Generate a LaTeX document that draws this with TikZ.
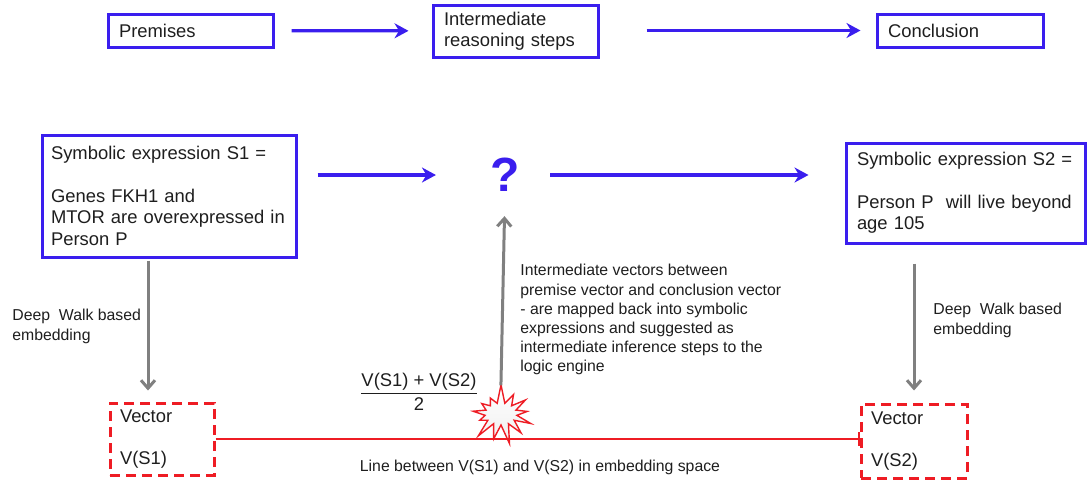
\documentclass[tikz,border=0pt]{standalone}
\usepackage{fontspec}
\setmainfont{Liberation Sans}
\usetikzlibrary{arrows.meta,shapes.symbols}
\definecolor{boxblue}{RGB}{58,30,238}
\definecolor{vecred}{RGB}{238,28,36}
\definecolor{ink}{RGB}{30,30,30}
\newcommand{\boxfont}{\fontsize{9.2}{10.7}\selectfont}
\newcommand{\notefont}{\fontsize{7.9}{9.6}\selectfont}
\tikzset{
  bluebox/.style={draw=boxblue, line width=1.5pt, inner xsep=5.5pt, inner ysep=0pt,
    align=left, font=\boxfont, text=ink},
  redbox/.style={draw=vecred, line width=1.5pt, dash pattern=on 5pt off 3pt,
    inner xsep=5pt, inner ysep=0pt, align=left, font=\boxfont, text=ink},
  bluearr/.style={draw=boxblue, line width=1.6pt, -{Stealth[length=7pt,width=7.5pt]}},
  grayarr/.style={draw=gray, line width=1.5pt, -{Straight Barb[length=4pt,width=7pt]}},
  note/.style={align=left, font=\notefont, text=ink, inner sep=0pt}
}
\begin{document}
\begin{tikzpicture}[x=0.5pt,y=-0.5pt]
  \useasboundingbox (0,0) rectangle (1091,482);
  % top row
  \node[bluebox, minimum width=82.5pt, minimum height=16.5pt, text width=71.5pt] (prem) at (190.5,30.5) {Premises};
  \node[bluebox, minimum width=82.5pt, minimum height=26pt, text width=71.5pt] (inter) at (515.5,31) {Intermediate\\reasoning steps};
  \node[bluebox, minimum width=83pt, minimum height=16.5pt, text width=72pt] (concl) at (960,30.5) {Conclusion};
  % middle row
  \node[bluebox, inner xsep=4.5pt, minimum width=127pt, minimum height=61pt, text width=118pt] (s1) at (169,196)
    {Symbolic expression S1 =\\[10.7pt]Genes FKH1 and\\MTOR are overexpressed in\\Person P};
  \node[font=\fontsize{24}{24}\bfseries\selectfont, text=boxblue, inner sep=0pt] (qm) at (505,175) {?};
  \node[bluebox, minimum width=119.5pt, minimum height=50pt, text width=108.5pt] (s2) at (965.5,193)
    {Symbolic expression S2 =\\[10.7pt]Person P\ \ will live beyond\\age 105};
  % bottom row
  \node[redbox, minimum width=52pt, minimum height=36pt, text width=42pt] (v1) at (162,439) {Vector\\[10.5pt]V(S1)};
  \node[redbox, minimum width=53pt, minimum height=37pt, text width=43pt] (v2) at (914,441) {Vector\\[10.5pt]V(S2)};
  \node[starburst, starburst points=13, starburst point height=10pt, random starburst=7,
    draw=vecred, line width=0.7pt, top color=white, bottom color=gray!12,
    minimum width=36pt, minimum height=31pt, inner sep=0pt] (burst) at (501,414) {};
  \node[align=center, font=\boxfont, text=ink, inner sep=0pt] (mean) at (419,392)
    {\underline{V(S1) + V(S2)}\\[1pt]2};
  % labels
  \node[note, anchor=north west] (walkl) at (12,309) {Deep\ \ Walk based\\embedding};
  \node[note, anchor=north west] (walkr) at (933,303) {Deep\ \ Walk based\\embedding};
  \node[note, anchor=north west] (expl) at (520,264)
    {Intermediate vectors between\\premise vector and conclusion vector\\- are mapped back into symbolic\\expressions and suggested as\\intermediate inference steps to the\\logic engine};
  \node[note] (linelbl) at (540,467) {Line between V(S1) and V(S2) in embedding space};
  % arrows
  \draw[bluearr, shorten <=8.5pt, shorten >=11.5pt] (prem) -- (inter);
  \draw[bluearr, shorten <=23.5pt, shorten >=7.5pt] (inter.east |- prem) -- (concl);
  \draw[bluearr, shorten <=10pt, shorten >=27pt] (s1.east |- qm) -- (qm);
  \draw[bluearr, shorten <=15pt, shorten >=18pt] (qm) -- (qm -| s2.west);
  \draw[grayarr, shorten <=1pt, shorten >=5.5pt] ([xshift=-7pt]v1.north |- s1.south) -- ([xshift=-7pt]v1.north);
  \draw[grayarr, shorten <=9.5pt, shorten >=6pt] (v2.north |- s2.south) -- (v2.north);
  \draw[grayarr, shorten <=-2pt, shorten >=12pt] (burst.north) -- (qm.south);
  \draw[draw=vecred, line width=1pt, -{Bar[width=7pt]}] (v1.east) -- (v1.east -| v2.west);
\end{tikzpicture}
\end{document}
